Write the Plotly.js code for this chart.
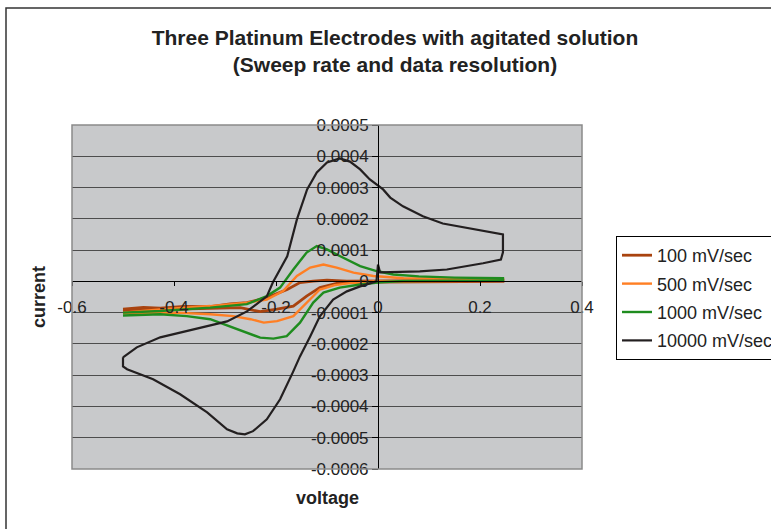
<!DOCTYPE html>
<html>
<head>
<meta charset="utf-8">
<script src="https://cdn.plot.ly/plotly-3.0.1.min.js"></script>
<style>
  html, body { margin: 0; padding: 0; background: #ffffff; }
  #chart { width: 771px; height: 529px; }
</style>
</head>
<body>
<div id="chart"></div>
<script>
// ---- Data ----
var seriesNames = ['100 mV/sec', '500 mV/sec', '1000 mV/sec', '10000 mV/sec'];
var seriesColors = ['#a9430f', '#ff7f24', '#1f8c1f', '#231f20'];

// 100 mV/sec
var v100 = [-0.500,-0.460,-0.427,-0.380,-0.329,-0.290,-0.257,-0.218,-0.178,-0.153,-0.127,-0.100,-0.061,0.000,0.100,0.245,
            0.245,0.100,0.000,-0.075,-0.114,-0.140,-0.166,-0.198,-0.231,-0.270,-0.330,-0.400,-0.450,-0.500];
var i100 = [-0.000089,-0.000083,-0.000086,-0.000080,-0.000081,-0.000072,-0.000068,-0.000052,-0.000026,-0.000004,0.000001,0.000004,0.000001,0.000002,0.000003,0.000004,
            0.000000,0.000000,-0.000002,-0.000004,-0.000020,-0.000047,-0.000079,-0.000089,-0.000097,-0.000084,-0.000086,-0.000088,-0.000091,-0.000095];

// 500 mV/sec
var v500 = [-0.500,-0.427,-0.329,-0.257,-0.218,-0.186,-0.159,-0.133,-0.107,-0.081,-0.048,-0.009,0.050,0.150,0.245,
            0.245,0.150,0.050,-0.009,-0.050,-0.085,-0.114,-0.140,-0.166,-0.198,-0.224,-0.250,-0.284,-0.329,-0.395,-0.500];
var i500 = [-0.000100,-0.000090,-0.000079,-0.000068,-0.000058,-0.000031,0.000017,0.000044,0.000054,0.000044,0.000028,0.000017,0.000010,0.000008,0.000007,
            0.000002,0.000002,0.000001,0.000000,-0.000005,-0.000012,-0.000026,-0.000068,-0.000111,-0.000127,-0.000132,-0.000121,-0.000111,-0.000105,-0.000100,-0.000102];

// 1000 mV/sec
var v1000 = [-0.500,-0.427,-0.329,-0.257,-0.218,-0.192,-0.166,-0.140,-0.120,-0.100,-0.075,-0.035,-0.003,0.030,0.080,0.150,0.245,
             0.245,0.150,0.050,0.004,-0.035,-0.075,-0.107,-0.127,-0.153,-0.179,-0.205,-0.231,-0.257,-0.296,-0.329,-0.375,-0.427,-0.500];
var i1000 = [-0.000100,-0.000095,-0.000084,-0.000073,-0.000047,-0.000020,0.000038,0.000092,0.000113,0.000102,0.000081,0.000049,0.000033,0.000022,0.000016,0.000012,0.000010,
             0.000003,0.000002,0.000001,-0.000003,-0.000010,-0.000020,-0.000036,-0.000068,-0.000132,-0.000175,-0.000183,-0.000180,-0.000164,-0.000141,-0.000121,-0.000111,-0.000105,-0.000109];

// 10000 mV/sec
var v10000 = [-0.500,-0.473,-0.427,-0.363,-0.296,-0.257,-0.218,-0.206,-0.178,-0.159,-0.139,-0.120,-0.100,-0.075,-0.055,-0.035,-0.016,0.010,0.024,0.049,0.088,0.127,0.167,0.206,0.245,
              0.245,0.241,0.206,0.167,0.135,0.082,0.037,0.004,0.000,-0.003,-0.035,-0.061,-0.088,-0.114,-0.133,-0.153,-0.167,-0.192,-0.218,-0.245,-0.261,-0.276,-0.296,-0.335,-0.388,-0.441,-0.492,-0.500,-0.500];
var i10000 = [-0.000243,-0.000211,-0.000179,-0.000153,-0.000128,-0.000096,-0.000048,-0.000003,0.000080,0.000198,0.000294,0.000348,0.000380,0.000393,0.000383,0.000358,0.000326,0.000294,0.000268,0.000240,0.000208,0.000185,0.000173,0.000160,0.000150,
              0.000093,0.000070,0.000058,0.000048,0.000038,0.000032,0.000029,0.000029,0.000054,0.000000,-0.000016,-0.000032,-0.000058,-0.000112,-0.000176,-0.000240,-0.000291,-0.000377,-0.000441,-0.000479,-0.000489,-0.000486,-0.000473,-0.000419,-0.000361,-0.000313,-0.000281,-0.000272,-0.000243];

var xTickVals = [-0.6, -0.4, -0.2, 0, 0.2, 0.4];
var xTickText = ['-0.6', '-0.4', '-0.2', '0', '0.2', '0.4'];
var yTickVals = [-0.0006, -0.0005, -0.0004, -0.0003, -0.0002, -0.0001, 0, 0.0001, 0.0002, 0.0003, 0.0004, 0.0005];
var yTickText = ['-0.0006', '-0.0005', '-0.0004', '-0.0003', '-0.0002', '-0.0001', '0', '0.0001', '0.0002', '0.0003', '0.0004', '0.0005'];

var titleText = 'Three Platinum Electrodes with agitated solution<br>(Sweep rate and data resolution)';
var xTitle = 'voltage';
var yTitle = 'current';

// ---- Chart ----
var FONT = 'Liberation Sans, Arial, sans-serif';
var xs = [v100, v500, v1000, v10000];
var ys = [i100, i500, i1000, i10000];
var widths = [2.8, 2.4, 2.4, 2.2];

var traces = seriesNames.map(function (name, k) {
  return {
    type: 'scatter', mode: 'lines', name: name, legendgroup: 'g' + k,
    x: xs[k], y: ys[k],
    line: { color: seriesColors[k], width: widths[k] }
  };
});

var xRange = [-0.6, 0.4];
var yRange = [-0.0006, 0.0005];

var layout = {
  width: 771, height: 529,
  margin: { l: 72, r: 189, t: 125, b: 60, autoexpand: false },
  paper_bgcolor: '#ffffff',
  plot_bgcolor: '#c8c9cb',
  font: { family: FONT, color: '#222222', size: 17 },
  title: {
    text: titleText,
    font: { family: FONT, size: 21, color: '#222222', weight: 'bold' },
    xref: 'container', x: 395 / 771, xanchor: 'center',
    yref: 'container', y: 1 - 45 / 529, yanchor: 'top'
  },
  xaxis: {
    range: xRange, anchor: 'free', position: (0 - yRange[0]) / (yRange[1] - yRange[0]),
    tickvals: xTickVals, ticktext: xTickText,
    showgrid: false, zeroline: false,
    showline: true, linecolor: '#000000', linewidth: 1,
    ticks: 'outside', ticklen: 4, tickcolor: '#000000',
    ticklabelstandoff: 6,
    tickfont: { family: FONT, size: 17, color: '#222222' },
    fixedrange: true
  },
  yaxis: {
    range: yRange, anchor: 'free', position: (0 - xRange[0]) / (xRange[1] - xRange[0]),
    tickvals: yTickVals, ticktext: yTickText,
    showgrid: true, gridcolor: '#4d4d4d', gridwidth: 1,
    zeroline: false,
    showline: true, linecolor: '#000000', linewidth: 1,
    ticks: 'outside', ticklen: 6, tickcolor: '#000000',
    tickfont: { family: FONT, size: 17, color: '#222222' },
    fixedrange: true
  },
  legend: {
    x: (616 - 72) / 510, xanchor: 'left',
    y: (469 - 236) / 344, yanchor: 'top',
    bgcolor: '#ffffff', bordercolor: '#000000', borderwidth: 1,
    font: { family: FONT, size: 18, color: '#222222' },
    tracegroupgap: 2
  },
  annotations: [
    { text: xTitle, xref: 'paper', yref: 'paper', x: 0.5, y: (469 - 498) / 344,
      xanchor: 'center', yanchor: 'middle', showarrow: false,
      font: { family: FONT, size: 18, color: '#222222', weight: 'bold' } },
    { text: yTitle, xref: 'paper', yref: 'paper', x: (39 - 72) / 510, y: 0.5,
      xanchor: 'center', yanchor: 'middle', showarrow: false, textangle: -90,
      font: { family: FONT, size: 18, color: '#222222', weight: 'bold' } }
  ],
  shapes: [
    { type: 'rect', xref: 'paper', yref: 'paper', x0: 0, x1: 1, y0: 0, y1: 1,
      line: { color: '#8a8a8a', width: 1.5 }, layer: 'above' },
    { type: 'rect', xref: 'paper', yref: 'paper',
      x0: (6 - 72) / 510, x1: (800 - 72) / 510, y0: (469 - 560) / 344, y1: (469 - 8) / 344,
      line: { color: '#333333', width: 1.5 }, layer: 'above' }
  ],
  showlegend: true
};

Plotly.newPlot('chart', traces, layout, { displayModeBar: false, staticPlot: true });
</script>
</body>
</html>
